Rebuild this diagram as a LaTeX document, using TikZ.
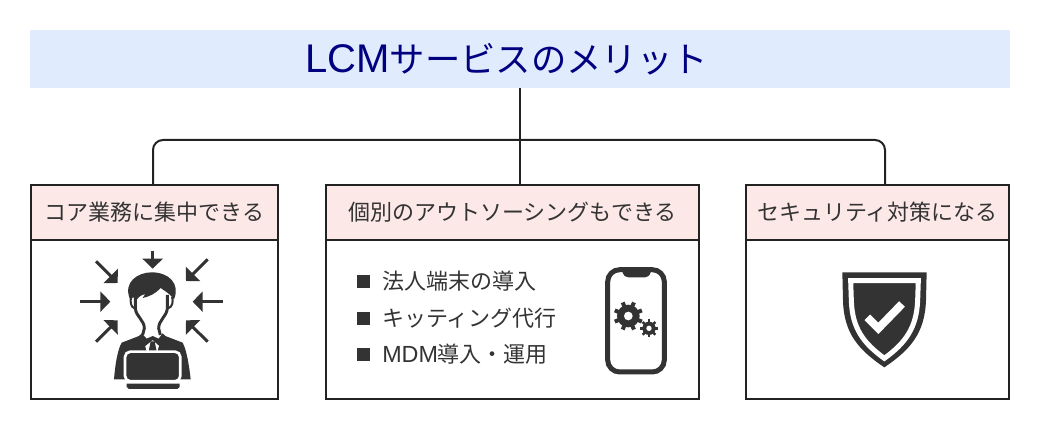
\documentclass[tikz,border=0pt]{standalone}
\usepackage{fontspec}
\setmainfont{Noto Sans CJK JP}
\newfontfamily\latinfont{Liberation Sans}
\usetikzlibrary{arrows.meta}
\definecolor{titleblue}{HTML}{E0ECFD}
\definecolor{titlenavy}{HTML}{000080}
\definecolor{headpink}{HTML}{FDE8E8}
\definecolor{inkdark}{HTML}{222222}
\definecolor{icondark}{HTML}{333333}
\tikzset{
	titlebox/.style={fill=titleblue, text=titlenavy, inner sep=0pt, outer sep=0pt,
		minimum width=735pt, minimum height=43.5pt, font=\fontsize{26.5pt}{30pt}\selectfont},
	headbox/.style={draw=inkdark, fill=headpink, line width=1.5pt, inner sep=0pt, outer sep=0pt,
		minimum height=41.25pt, text=icondark, font=\fontsize{16.5pt}{20pt}\selectfont},
	bodybox/.style={draw=inkdark, fill=white, line width=1.5pt, inner sep=0pt, outer sep=0pt,
		minimum height=118.9pt, anchor=north},
	itemtext/.style={anchor=west, inner sep=0pt, text=icondark, font=\fontsize{16.5pt}{20pt}\selectfont},
	itemmark/.style={fill=icondark, inner sep=0pt, minimum size=9.5pt},
	branchline/.style={draw=inkdark, line width=1.5pt},
	focusarrow/.style={draw=icondark, fill=icondark, line width=2.25pt,
		-{Triangle[length=7.5pt,width=15pt]}},
}
\begin{document}
\begin{tikzpicture}[x=0.75pt, y=-0.75pt]
	\useasboundingbox (0, 0) rectangle (1040, 435);

	\node[titlebox] (title) at (520, 59) {{\latinfont\fontsize{30pt}{30pt}\selectfont LCM}サービスのメリット\hspace*{20pt}};

	\node[headbox, anchor=north west, minimum width=185.25pt] (core) at (31, 185) {コア業務に集中できる};
	\node[headbox, anchor=north west, minimum width=279.75pt] (outsource) at (326, 185) {個別のアウトソーシングもできる};
	\node[headbox, anchor=north west, minimum width=197.25pt] (security) at (746, 185) {セキュリティ対策になる};
	\node[bodybox, minimum width=185.25pt] (corebody) at (core.south) {};
	\node[bodybox, minimum width=279.75pt] (outsourcebody) at (outsource.south) {};
	\node[bodybox, minimum width=197.25pt] (securitybody) at (security.south) {};

	\coordinate (coretop) at (153, 185);
	\coordinate (securitytop) at (885, 185);
	\coordinate (bus) at (520, 140);
	\draw[branchline, line width=2pt] (title.south) -- (title.south |- outsource.north);
	\draw[branchline, rounded corners=7.5pt] (coretop) |- (bus) -| (securitytop);

	\node[itemmark] (mark1) at (363.5, 281.5) {};
	\node[itemmark] (mark2) at (363.5, 318.5) {};
	\node[itemmark] (mark3) at (363.5, 354.5) {};
	\node[itemtext] (item1) at (382, 281.5) {法人端末の導入};
	\node[itemtext] (item2) at (382, 318) {キッティング代行};
	\node[itemtext] (item3) at (382, 354.5) {{\latinfont\fontsize{17.5pt}{20pt}\selectfont MDM}導入・運用};

	\begin{scope}[shift={(30, 180)}, scale=1/3]
		\draw[focusarrow] (368, 213) -- (368, 266);
		\draw[focusarrow] (150, 365) -- (241, 365);
		\draw[focusarrow] (578, 365) -- (488, 365);
		\draw[focusarrow] (198, 244) -- (263, 309);
		\draw[focusarrow] (533, 238) -- (468, 303);
		\draw[focusarrow] (198, 485) -- (263, 421);
		\draw[focusarrow] (533, 485) -- (468, 421);

		\fill[icondark] (335, 465) -- (275, 488) .. controls (262, 510) and (255, 560) .. (252, 598)
			-- (482, 598) .. controls (478, 560) and (470, 510) .. (458, 488) -- (398, 465)
			-- (368, 500) -- cycle;
		\fill[white] (338, 470) -- (395, 470) -- (382, 514) -- (350, 514) -- cycle;
		\fill[icondark] (335, 460) -- (350, 476) -- (368, 468) -- (386, 476) -- (398, 460) -- (410, 472)
			-- (388, 498) -- (368, 480) -- (346, 498) -- (324, 472) -- cycle;
		\fill[icondark] (362, 484) -- (374, 484) -- (380, 514) -- (356, 514) -- cycle;
		\draw[icondark, line width=2.2pt] (316, 345) -- (316, 385) .. controls (318, 410) and (343, 420) .. (343, 445) -- (338, 465);
		\draw[icondark, line width=2.2pt] (412, 345) -- (412, 385) .. controls (410, 410) and (386, 420) .. (386, 445) -- (391, 465);
		\draw[icondark, line width=1.5pt] (304, 350) .. controls (299, 365) and (303, 382) .. (314, 385);
		\draw[icondark, line width=1.5pt] (426, 350) .. controls (431, 365) and (427, 382) .. (414, 385);
		\fill[icondark] (300, 358) .. controls (278, 305) and (325, 277) .. (365, 277)
			.. controls (415, 277) and (452, 310) .. (432, 358)
			.. controls (424, 345) and (408, 335) .. (392, 324)
			.. controls (378, 340) and (358, 350) .. (338, 354)
			.. controls (342, 350) and (344, 347) .. (346, 342)
			.. controls (335, 345) and (325, 350) .. (320, 360)
			.. controls (315, 350) and (308, 350) .. (300, 358) -- cycle;
		\draw[white, fill=icondark, line width=2pt, rounded corners=4pt] (285, 515) rectangle (451, 604);
		\fill[icondark] (290, 611) -- (449, 611) -- (449, 621) -- (442, 627) -- (297, 627) -- (290, 621) -- cycle;
	\end{scope}

	\begin{scope}[shift={(590, 250)}, scale=1/3]
		\draw[icondark, line width=3.75pt, rounded corners=9pt] (53, 59) rectangle (223, 366);
		\fill[icondark] (98, 60) -- (182, 60) -- (182, 68) .. controls (178, 78) and (172, 82) .. (165, 82)
			-- (115, 82) .. controls (108, 82) and (102, 78) .. (98, 68) -- cycle;
		\foreach \a in {0, 45, ..., 315} {
			\draw[icondark, line width=3pt] (115, 198) -- ++(\a+22.5:44);
			\draw[icondark, line width=1.8pt] (177, 235) -- ++(\a:27);
		}
		\fill[icondark] (115, 198) circle[radius=34];
		\fill[icondark] (177, 235) circle[radius=20];
		\fill[white] (115, 198) circle[radius=13];
		\fill[white] (177, 235) circle[radius=8];
	\end{scope}

	\begin{scope}[shift={(820, 260)}, scale=1/3]
		\fill[icondark] (67, 37) -- (320, 37) -- (318, 120) .. controls (315, 220) and (270, 270) .. (193, 322)
			.. controls (116, 270) and (71, 220) .. (69, 120) -- cycle;
		\draw[white, line width=3.75pt] (92, 62) -- (295, 62) -- (293, 120) .. controls (290, 205) and (255, 250) .. (193, 295)
			.. controls (131, 250) and (96, 205) .. (94, 120) -- cycle;
		\draw[white, line width=6pt] (142, 172) -- (175, 205) -- (246, 132);
	\end{scope}
\end{tikzpicture}
\end{document}
